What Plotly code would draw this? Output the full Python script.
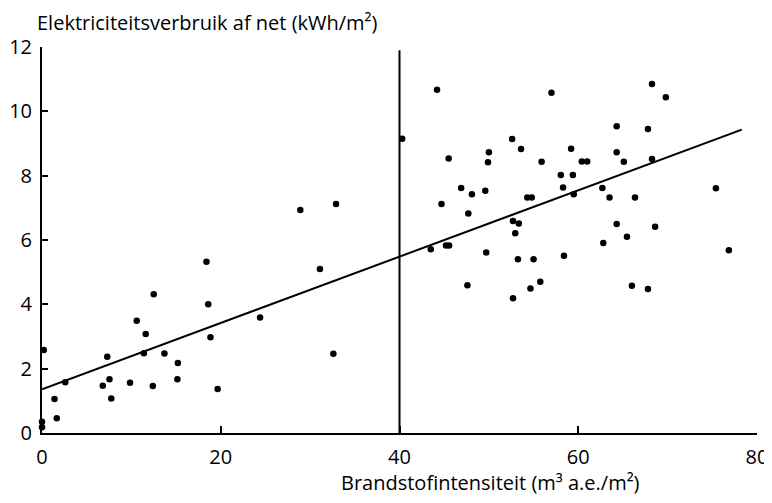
import plotly.graph_objects as go

# Scatter data: fuel intensity (x) vs electricity use from grid (y)
brandstof = [0.2, 0.0, 0.0, 1.4, 1.65, 2.6, 6.8, 7.3, 7.55, 7.75, 9.85, 10.6, 11.6, 11.4,
             12.5, 12.4, 13.7, 15.2, 15.15, 18.4, 18.6, 18.85, 19.65, 24.4, 28.9, 32.9,
             31.1, 32.6,
             44.2, 57.0, 40.3, 52.6, 50.0, 53.6, 59.2, 45.5, 49.9, 55.9, 60.4, 61.0,
             58.05, 59.4, 46.9, 49.6, 48.1, 58.3, 59.5, 54.3, 54.8, 44.7, 47.7, 52.7,
             53.35, 52.95, 43.5, 45.2, 45.55, 49.7, 53.25, 55.0, 58.4, 47.6, 55.75, 54.65,
             52.7,
             68.25, 69.8, 64.3, 67.8, 64.3, 65.1, 68.25, 62.7, 63.5, 66.35, 75.4, 64.3,
             65.45, 68.6, 62.8, 76.85, 66.0, 67.8]
elektriciteit = [2.58, 0.35, 0.18, 1.06, 0.46, 1.58, 1.47, 2.37, 1.67, 1.07, 1.56, 3.49, 3.08, 2.48,
                 4.31, 1.46, 2.47, 2.18, 1.67, 5.32, 4.0, 2.98, 1.37, 3.59, 6.93, 7.12,
                 5.1, 2.46,
                 10.67, 10.58, 9.15, 9.14, 8.73, 8.83, 8.84, 8.53, 8.42, 8.43, 8.44, 8.44,
                 8.02, 8.02, 7.62, 7.53, 7.42, 7.63, 7.42, 7.32, 7.32, 7.12, 6.82, 6.59,
                 6.51, 6.21, 5.71, 5.83, 5.83, 5.61, 5.4, 5.4, 5.51, 4.59, 4.7, 4.49,
                 4.19,
                 10.85, 10.44, 9.54, 9.45, 8.73, 8.43, 8.52, 7.62, 7.32, 7.32, 7.61, 6.5,
                 6.1, 6.41, 5.91, 5.68, 4.58, 4.48]

# Regression line endpoints
fit_x = [0.0, 78.3]
fit_y = [1.36, 9.43]

# Split line
split_x = [40, 40]
split_y = [0, 11.9]

x_ticks = [0, 20, 40, 60, 80]
y_ticks = [0, 2, 4, 6, 8, 10, 12]

y_title = "Elektriciteitsverbruik af net (kWh/m²)"
x_title = "Brandstofintensiteit (m³ a.e./m²)"

FONT = "Open Sans"

fig = go.Figure()
fig.add_trace(go.Scatter(x=split_x, y=split_y, mode="lines",
                         line=dict(color="black", width=2), cliponaxis=False,
                         hoverinfo="skip"))
fig.add_trace(go.Scatter(x=fit_x, y=fit_y, mode="lines",
                         line=dict(color="black", width=2), cliponaxis=False))
fig.add_trace(go.Scatter(x=brandstof, y=elektriciteit, mode="markers",
                         marker=dict(color="black", size=6.5), cliponaxis=False))

# page body has an 8px default margin, so the figure is sized/offset to compensate
fig.update_layout(
    width=764, height=495,
    margin=dict(l=34, r=15, t=39, b=70),
    paper_bgcolor="white", plot_bgcolor="white",
    showlegend=False,
    font=dict(family=FONT, color="black", size=20),
    xaxis=dict(range=[0, 80], tickvals=x_ticks, showgrid=False, zeroline=False,
               showline=True, linecolor="black", linewidth=2, automargin=False,
               ticks="inside", ticklen=7, tickwidth=2, tickcolor="black",
               ticklabelstandoff=5,
               tickfont=dict(size=20, family=FONT), fixedrange=True),
    yaxis=dict(range=[0, 12], tickvals=y_ticks, showgrid=False, zeroline=False,
               showline=True, linecolor="black", linewidth=2, automargin=False,
               ticks="inside", ticklen=6, tickwidth=2, tickcolor="black",
               ticklabelstandoff=4,
               tickfont=dict(size=20, family=FONT), fixedrange=True),
    annotations=[
        dict(text=y_title, xref="paper", yref="paper", x=0.473, y=1, yshift=25,
             xanchor="right", yanchor="middle", showarrow=False,
             font=dict(size=20, family=FONT)),
        dict(text=x_title, xref="paper", yref="paper", x=0.839, y=0, yshift=-49,
             xanchor="right", yanchor="middle", showarrow=False,
             font=dict(size=20, family=FONT)),
    ],
)

fig.write_html("out.html")
